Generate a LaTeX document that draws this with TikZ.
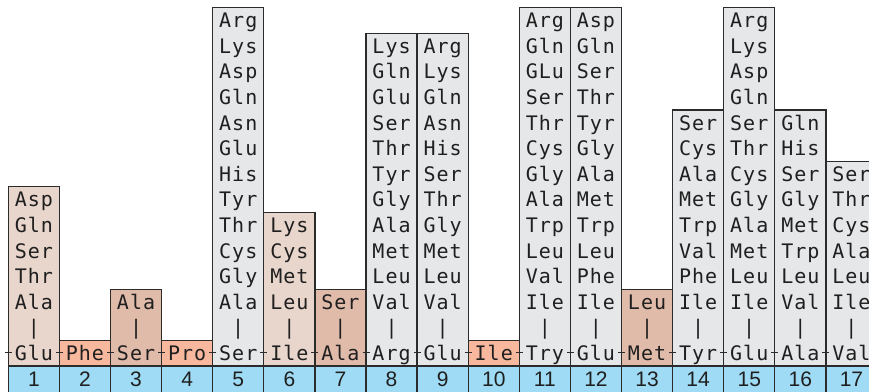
\documentclass[tikz,border=0pt]{standalone}
\usepackage{fontspec}
\newfontfamily\resfont[LetterSpace=5]{DejaVu Sans Mono}
\newfontfamily\numfont{Liberation Sans}

\definecolor{linec}{HTML}{2B2B2B}
\definecolor{lightbrown}{HTML}{E8D5CB}
\definecolor{salmon}{HTML}{F8B89E}
\definecolor{tan}{HTML}{E1BBAA}
\definecolor{greycol}{HTML}{E6E7E9}
\definecolor{barblue}{HTML}{9FDBF4}

% geometry: column width, row pitch, left edge, top of the number bar
\def\W{51.1}
\def\H{25.6}
\def\XL{8.3}
\def\BASE{366}

\tikzset{
  colbox/.style={draw=linec, line width=1.3pt, fill=#1},
  res/.style={font=\resfont\fontsize{20}{20}\selectfont, text=black!88,
              inner sep=0pt, anchor=base},
  num/.style={font=\numfont\fontsize{21}{21}\selectfont, text=black!88,
              inner sep=0pt},
  bond/.style={draw=linec, line width=1pt},
  sep/.style={draw=linec, line width=1.3pt},
}

% one residue column: #1 position, #2 fill colour, #3 residues top to bottom
\newcommand\rescol[3]{%
  \foreach \t [count=\k] in {#3} {\xdef\nrows{\k}}%
  \path[colbox=#2] ({\XL+(#1-1)*\W},\BASE) rectangle ++(\W,{-\nrows*\H});
  \foreach \t [count=\k] in {#3} {%
    \node[res] (r#1-\k) at ({\XL+(#1-0.5)*\W},{\BASE-(\nrows-\k+0.5)*\H+7.2}) {\t};
  }%
  \coordinate (b#1) at ({\XL+(#1-1)*\W},{\BASE-0.5*\H-0.5});
  \node[num] (n#1) at ({\XL+(#1-0.5)*\W},{\BASE+13.5}) {#1};
}

\begin{document}
\begin{tikzpicture}[x=1pt,y=-1pt]
\useasboundingbox (0,0) rectangle (869,391);
\clip (0,0) rectangle (869,391);

% number bar
\fill[barblue] (\XL,\BASE) rectangle (880,400);
\draw[sep] (\XL,400) -- (\XL,\BASE) -- (880,\BASE);
\foreach \i in {1,...,17} {
  \draw[sep] ({\XL+\i*\W},\BASE) -- ({\XL+\i*\W},400);
}

\rescol{1}{lightbrown}{Asp,Gln,Ser,Thr,Ala,|,Glu}
\rescol{2}{salmon}{Phe}
\rescol{3}{tan}{Ala,|,Ser}
\rescol{4}{salmon}{Pro}
\rescol{5}{greycol}{Arg,Lys,Asp,Gln,Asn,Glu,His,Tyr,Thr,Cys,Gly,Ala,|,Ser}
\rescol{6}{lightbrown}{Lys,Cys,Met,Leu,|,Ile}
\rescol{7}{tan}{Ser,|,Ala}
\rescol{8}{greycol}{Lys,Gln,Glu,Ser,Thr,Tyr,Gly,Ala,Met,Leu,Val,|,Arg}
\rescol{9}{greycol}{Arg,Lys,Gln,Asn,His,Ser,Thr,Gly,Met,Leu,Val,|,Glu}
\rescol{10}{salmon}{Ile}
\rescol{11}{greycol}{Arg,Gln,GLu,Ser,Thr,Cys,Gly,Ala,Trp,Leu,Val,Ile,|,Try}
\rescol{12}{greycol}{Asp,Gln,Ser,Thr,Tyr,Gly,Ala,Met,Trp,Leu,Phe,Ile,|,Glu}
\rescol{13}{tan}{Leu,|,Met}
\rescol{14}{greycol}{Ser,Cys,Ala,Met,Trp,Val,Phe,Ile,|,Tyr}
\rescol{15}{greycol}{Arg,Lys,Asp,Gln,Ser,Thr,Cys,Gly,Ala,Met,Leu,Ile,|,Glu}
\rescol{16}{greycol}{Gln,His,Ser,Gly,Met,Trp,Leu,Val,|,Ala}
\rescol{17}{greycol}{Ser,Thr,Cys,Ala,Leu,Ile,|,Val}

% peptide bonds along the chain
\foreach \i in {1,...,17} {
  \draw[bond] ([xshift=-3.5pt]b\i) -- ([xshift=3.5pt]b\i);
}
\end{tikzpicture}
\end{document}
